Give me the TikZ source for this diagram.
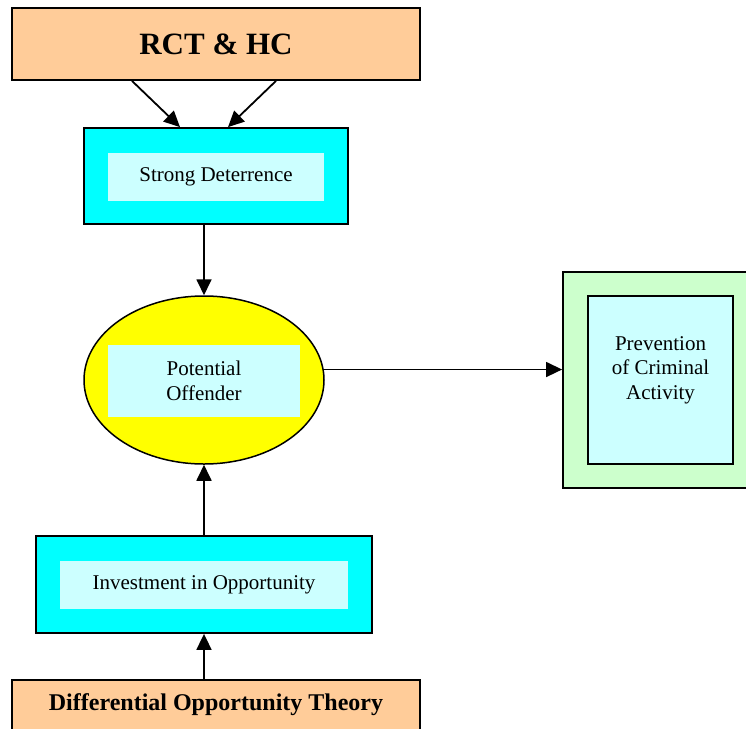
\documentclass[tikz,border=0pt]{standalone}
\usepackage{fontspec}
\setmainfont{Liberation Serif}
\usetikzlibrary{arrows.meta,shapes.geometric}
\definecolor{peach}{HTML}{FFCC99}
\definecolor{cyanbox}{HTML}{00FFFF}
\definecolor{lightcyan}{HTML}{CCFFFF}
\definecolor{yellowbox}{HTML}{FFFF00}
\definecolor{lightgreen}{HTML}{CCFFCC}
\tikzset{
  outerbox/.style={draw=black, line width=1.8pt, rectangle, inner sep=0pt},
  innerbox/.style={rectangle, inner sep=0pt, fill=lightcyan, align=center,
    font=\fontsize{21}{25}\selectfont},
  titlebox/.style={draw=black, line width=1.8pt, fill=peach, rectangle, inner sep=0pt},
  arr/.style={line width=1.8pt, -{Triangle[length=16pt,width=15pt]}}
}
\begin{document}
\begin{tikzpicture}[x=1pt,y=-1pt]
\clip (0,0) rectangle (746,728);
\useasboundingbox (0,0) rectangle (746,728);
% top title
\node[titlebox, minimum width=408pt, minimum height=72pt,
  font=\fontsize{31}{36}\selectfont\bfseries] (rct) at (216,44) {RCT \& HC};
% strong deterrence
\node[outerbox, fill=cyanbox, minimum width=264pt, minimum height=96pt] (sd) at (216,176) {};
\node[innerbox, minimum width=216pt, minimum height=48pt] (sdin) at (216,177) {Strong Deterrence};
% potential offender
\node[draw=black, line width=1.5pt, ellipse, fill=yellowbox, minimum width=240pt,
  minimum height=168pt, inner sep=0pt] (po) at (204,380) {};
\node[innerbox, minimum width=192pt, minimum height=72pt] (poin) at (204,381) {Potential\\Offender};
% prevention
\node[outerbox, fill=lightgreen, minimum width=207pt, minimum height=216pt] (pca) at (666.5,380) {};
\node[innerbox, draw=black, line width=1.8pt, minimum width=145pt, minimum height=168pt] (pcain) at (660.5,380) {};
\node[align=center, font=\fontsize{21}{24.5}\selectfont, inner sep=0pt] (pcatext) at (660.5,370) {Prevention\\of Criminal\\Activity};
% investment in opportunity
\node[outerbox, fill=cyanbox, minimum width=336pt, minimum height=97pt] (io) at (204,584.5) {};
\node[innerbox, minimum width=288pt, minimum height=48pt] (ioin) at (204,585) {Investment in Opportunity};
% differential opportunity theory
\node[titlebox, minimum width=408pt, minimum height=50pt,
  font=\fontsize{24}{28}\selectfont\bfseries] (dot) at (216,705) {Differential Opportunity Theory};
% connectors
\draw[arr] ([xshift=-84pt]rct.south) -- ([xshift=-36pt]sd.north);
\draw[arr] ([xshift=60pt]rct.south) -- ([xshift=12pt]sd.north);
\draw[arr] ([xshift=-12pt]sd.south) -- (po.north);
\draw[arr, line width=1.5pt] (po.5.3) -- (po.5.3 -| pca.west);
\draw[arr] (io.north) -- (po.south);
\draw[arr] ([xshift=-12pt]dot.north) -- (io.south);
\end{tikzpicture}
\end{document}
